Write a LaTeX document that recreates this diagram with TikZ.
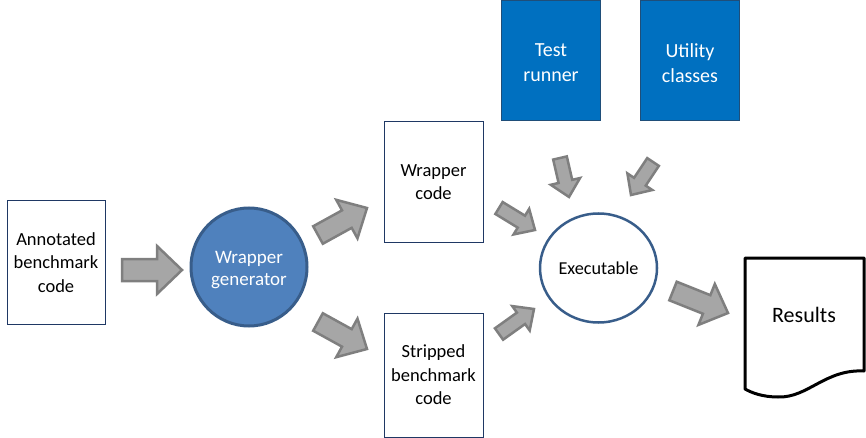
\documentclass[tikz,border=0pt]{standalone}
\usepackage{fontspec}
\setmainfont{Carlito}
\usetikzlibrary{calc,shapes.geometric}
\definecolor{navy}{HTML}{1F3864}
\definecolor{blockfill}{HTML}{A6A6A6}
\definecolor{blockline}{HTML}{7F7F7F}
\definecolor{genfill}{HTML}{4F81BD}
\definecolor{genline}{HTML}{385D8A}
\definecolor{bluebox}{HTML}{0070C0}
\definecolor{blueline}{HTML}{1F4E79}
\tikzset{
  codebox/.style={draw=navy, line width=1pt, fill=white, align=center, inner sep=2pt,
    font=\fontsize{18.5}{23.5}\selectfont},
  libbox/.style={draw=blueline, line width=1pt, fill=bluebox, minimum width=99pt, minimum height=120pt},
  libtext/.style={text=white, align=center, font=\fontsize{20}{25}\selectfont},
  blockarrow/.style={draw=blockline, fill=blockfill, line width=2.5pt, line join=miter},
}
\newcommand{\barrow}[5]{%
  \coordinate (bh) at ($(#2)!#5!(#1)$);
  \draw[blockarrow] ($(#1)!#3!90:(#2)$) -- ($(bh)!#3!90:(#2)$) -- ($(bh)!#4!90:(#2)$)
    -- (#2) -- ($(bh)!#4!-90:(#2)$) -- ($(bh)!#3!-90:(#2)$) -- ($(#1)!#3!-90:(#2)$) -- cycle;}
\begin{document}
\begin{tikzpicture}[x=1pt,y=-1pt]
\useasboundingbox (0,0) rectangle (866,438);
% nodes
\node[codebox, minimum width=98pt, minimum height=123pt] (ann) at (56,262.5) {Annotated\\benchmark\\code};
\node[ellipse, draw=genline, line width=3pt, fill=genfill, minimum width=116pt, minimum height=118pt] (gen) at (249,267) {};
\node[text=white, align=center, font=\fontsize{19}{22}\selectfont, inner sep=0pt] (gentext) at ($(gen.center)+(0,3)$) {Wrapper\\generator};
\node[codebox, minimum width=99pt, minimum height=120pt] (wc) at (433.5,182) {Wrapper\\code};
\node[codebox, minimum width=99pt, minimum height=124pt] (sb) at (433.5,375) {Stripped\\benchmark\\code};
\node[libbox] (tr) at (551,60.5) {};
\node[libtext] (trtext) at ($(tr.center)+(0,2.5)$) {Test\\runner};
\node[libbox] (uc) at (690,60.5) {};
\node[libtext] (uctext) at ($(uc.center)+(0,2.5)$) {Utility\\classes};
\node[ellipse, draw=genline, line width=2.5pt, fill=white, minimum width=117pt, minimum height=109pt,
  inner sep=0pt, font=\fontsize{18.2}{20}\selectfont] (ex) at (598.5,268) {Executable};
\draw[line width=3pt, line join=round, fill=white]
  (745,258) -- (864,258) -- (864,371)
  .. controls (825,369) and (808,398) .. (778,397)
  .. controls (763,397) and (752,393) .. (745,389) -- cycle;
\node[font=\fontsize{22}{26}\selectfont] (res) at (804,315) {Results};
% block arrows
\coordinate (a1t) at (122,270); \coordinate (a1h) at (182,270);
\barrow{a1t}{a1h}{11pt}{24pt}{25pt}
\coordinate (a2t) at (318,235); \coordinate (a2h) at (367,208);
\barrow{a2t}{a2h}{10pt}{22pt}{23pt}
\coordinate (a3t) at (318,322); \coordinate (a3h) at (367,349);
\barrow{a3t}{a3h}{10pt}{22pt}{23pt}
\coordinate (a4t) at (499,208); \coordinate (a4h) at (535,230);
\barrow{a4t}{a4h}{7pt}{15pt}{16pt}
\coordinate (a5t) at (499,334); \coordinate (a5h) at (534,309);
\barrow{a5t}{a5h}{7pt}{15pt}{16pt}
\coordinate (a6t) at (560,158); \coordinate (a6h) at (569,197);
\barrow{a6t}{a6h}{7pt}{15pt}{16pt}
\coordinate (a7t) at (653,162); \coordinate (a7h) at (631,195);
\barrow{a7t}{a7h}{7pt}{15pt}{16pt}
\coordinate (a8t) at (673,291); \coordinate (a8h) at (728,313);
\barrow{a8t}{a8h}{10pt}{22pt}{23pt}
\end{tikzpicture}
\end{document}
